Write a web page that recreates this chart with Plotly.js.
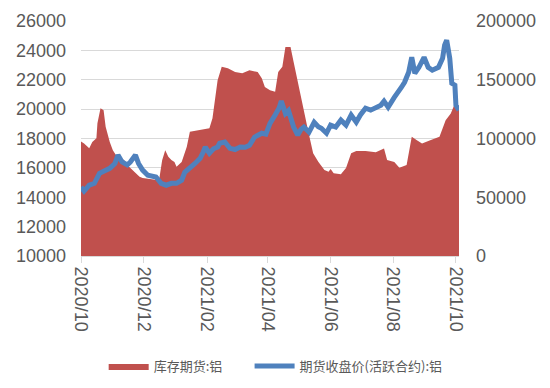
<!DOCTYPE html>
<html>
<head>
<meta charset="utf-8">
<script src="https://cdn.plot.ly/plotly-3.0.1.min.js"></script>
<style>html,body{margin:0;padding:0;background:#fff;}#chart{width:550px;height:388px;}</style>
</head>
<body>
<div id="chart"></div>
<script>
// 库存期货:铝 (right axis)
const stockDates = ["2020-10-01","2020-10-04","2020-10-09","2020-10-12","2020-10-16","2020-10-17","2020-10-20","2020-10-23","2020-10-25","2020-10-29",
"2020-11-01","2020-11-04","2020-11-07","2020-11-12","2020-11-15","2020-11-20","2020-11-23","2020-11-27","2020-11-30","2020-12-08",
"2020-12-16","2020-12-19","2020-12-22","2020-12-25","2020-12-28","2020-12-31","2021-01-02","2021-01-07","2021-01-12","2021-01-15",
"2021-01-20","2021-01-28","2021-02-03","2021-02-06","2021-02-11","2021-02-15","2021-02-21","2021-02-28","2021-03-07","2021-03-14",
"2021-03-22","2021-03-26","2021-03-29","2021-04-03","2021-04-08","2021-04-11","2021-04-15","2021-04-18","2021-04-23","2021-04-26",
"2021-05-01","2021-05-06","2021-05-10","2021-05-15","2021-05-20","2021-05-26","2021-05-30","2021-06-01","2021-06-04","2021-06-11",
"2021-06-16","2021-06-21","2021-06-26","2021-07-05","2021-07-15","2021-07-23","2021-07-26","2021-08-02","2021-08-07","2021-08-14",
"2021-08-19","2021-08-24","2021-08-29","2021-09-06","2021-09-15","2021-09-21","2021-09-26","2021-09-30","2021-10-02","2021-10-04"];
const stockValues = [97500,95800,91800,97100,100300,113000,125800,124100,110000,97100,
90000,85900,83300,81600,77400,73100,70500,67500,66300,65500,
64500,81500,90000,84400,81600,80100,76000,80100,93000,105800,
106600,107800,108800,117300,149600,161000,159800,156600,155500,158100,
156600,151300,143900,141100,139800,156600,161000,177900,177900,165100,
143900,121600,107100,87500,80300,73100,71800,74000,70500,69600,
74900,87500,89300,89300,88400,91500,81600,80100,75100,77400,
101400,98600,95800,98600,101400,115600,121300,129800,126900,124100];

// 期货收盘价(活跃合约):铝 (left axis)
const priceDates = ["2020-10-01","2020-10-04","2020-10-09","2020-10-14","2020-10-19","2020-10-24","2020-10-29","2020-11-03","2020-11-06","2020-11-10",
"2020-11-15","2020-11-18","2020-11-23","2020-11-26","2020-11-30","2020-12-05","2020-12-13","2020-12-18","2020-12-23","2020-12-28",
"2021-01-02","2021-01-07","2021-01-10","2021-01-20","2021-01-25","2021-01-28","2021-01-30","2021-02-03","2021-02-07","2021-02-11",
"2021-02-13","2021-02-18","2021-02-23","2021-02-28","2021-03-05","2021-03-10","2021-03-14","2021-03-19","2021-03-26","2021-03-30",
"2021-04-03","2021-04-08","2021-04-12","2021-04-14","2021-04-18","2021-04-21","2021-04-23","2021-04-26","2021-04-30","2021-05-03",
"2021-05-06","2021-05-11","2021-05-16","2021-05-20","2021-05-23","2021-05-28","2021-06-01","2021-06-06","2021-06-11","2021-06-16",
"2021-06-21","2021-06-26","2021-06-30","2021-07-05","2021-07-10","2021-07-15","2021-07-20","2021-07-23","2021-07-27","2021-08-02",
"2021-08-06","2021-08-09","2021-08-12","2021-08-16","2021-08-19","2021-08-22","2021-08-26","2021-08-31","2021-09-04","2021-09-08",
"2021-09-14","2021-09-18","2021-09-20","2021-09-22","2021-09-25","2021-09-27","2021-09-30","2021-10-01","2021-10-04"];
const priceValues = [14700,14420,14820,14950,15630,15850,15970,16300,16870,16400,
16200,16400,16870,16300,15850,15500,15380,14950,14820,14950,
14950,15160,15700,16300,16650,17080,17420,17000,17300,17420,
17680,17760,17330,17250,17420,17400,17540,18100,18360,18300,
19030,19600,20100,20560,19700,19900,19450,18780,18230,18600,
18780,18430,19100,18800,18700,18360,18910,18780,19250,18910,
19600,19110,19600,20060,19930,20060,20270,20540,20130,20800,
21290,21490,21830,22510,23530,22440,22850,23530,22850,22650,
22850,23460,24350,24690,23460,21760,21630,20270,19930];

const xTickVals = ["2020-10-01","2020-12-01","2021-02-01","2021-04-01","2021-06-01","2021-08-01","2021-10-01"];
const xTickText = ["2020/10","2020/12","2021/02","2021/04","2021/06","2021/08","2021/10"];
const seriesNames = ["库存期货:铝","期货收盘价(活跃合约):铝"];

const tickFont = {family: "Liberation Sans, Arial, sans-serif", size: 18, color: "#595959"};
const legendFont = {family: "Noto Sans CJK SC", size: 13, color: "#595959"};

const traces = [
  {x: stockDates, y: stockValues, name: seriesNames[0], type: "scatter", mode: "lines",
   yaxis: "y", fill: "tozeroy", fillcolor: "#C0504D", line: {color: "#C0504D", width: 0},
   legend: "legend"},
  {x: priceDates, y: priceValues, name: seriesNames[1], type: "scatter", mode: "lines",
   yaxis: "y2", line: {color: "#4F81BD", width: 5}, legend: "legend2"}
];

const layout = {
  width: 550, height: 388,
  margin: {l: 81, r: 91, t: 21, b: 132},
  paper_bgcolor: "#ffffff", plot_bgcolor: "#ffffff",
  showlegend: true,
  legend: {orientation: "h", xref: "container", yref: "container", x: 0.1885, xanchor: "left",
           y: 0.0567, yanchor: "middle", font: legendFont, itemwidth: 40, bgcolor: "rgba(0,0,0,0)"},
  legend2: {orientation: "h", xref: "container", yref: "container", x: 0.4538, xanchor: "left",
           y: 0.0567, yanchor: "middle", font: legendFont, itemwidth: 40, bgcolor: "rgba(0,0,0,0)"},
  xaxis: {type: "date", range: ["2020-10-01", "2021-10-04"],
          tickvals: xTickVals, ticktext: xTickText, tickangle: 90,
          tickfont: tickFont, showgrid: false, zeroline: false,
          showline: true, linecolor: "#D9D9D9", linewidth: 1,
          ticks: "outside", ticklen: 6, tickcolor: "#D9D9D9", tickwidth: 1},
  yaxis: {range: [0, 200000], dtick: 50000, tick0: 0, tickformat: "d", tickfont: tickFont,
          side: "right", showgrid: false, zeroline: false, showline: false,
          ticks: "", ticklabelstandoff: 16},
  yaxis2: {range: [10000, 26000], dtick: 2000, tick0: 10000, tickformat: "d", tickfont: tickFont,
           overlaying: "y", side: "left",
           showgrid: true, gridcolor: "#D9D9D9", gridwidth: 1, zeroline: false,
           showline: false, ticks: "", ticklabelstandoff: 14}
};

Plotly.newPlot("chart", traces, layout, {displayModeBar: false, staticPlot: true});
</script>
</body>
</html>
